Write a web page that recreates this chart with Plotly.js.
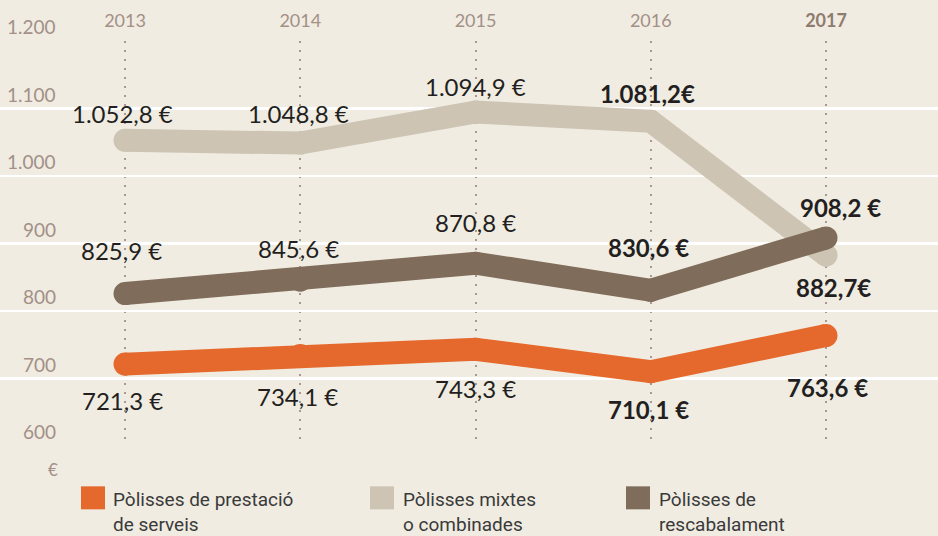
<!DOCTYPE html>
<html>
<head>
<meta charset="utf-8">
<script src="https://cdn.plot.ly/plotly-3.0.1.min.js"></script>
<style>html,body{margin:0;padding:0;background:#f0ece2;}</style>
</head>
<body>
<div id="chart" style="width:938px;height:536px;"></div>
<script>
// ---- data ----
const years = [2013, 2014, 2015, 2016, 2017];
const yearLabels = ['2013', '2014', '2015', '2016', '2017'];
const prestacio = [721.3, 734.1, 743.3, 710.1, 763.6];
const mixtes = [1052.8, 1048.8, 1094.9, 1081.2, 882.7];
const rescabalament = [825.9, 845.6, 870.8, 830.6, 908.2];
const prestacioText = ['721,3 €', '734,1 €', '743,3 €', '710,1 €', '763,6 €'];
const mixtesText = ['1.052,8 €', '1.048,8 €', '1.094,9 €', '1.081,2€', '882,7€'];
const rescabalamentText = ['825,9 €', '845,6 €', '870,8 €', '830,6 €', '908,2 €'];
const seriesNames = ['Pòlisses de prestació<br>de serveis', 'Pòlisses mixtes<br>o combinades', 'Pòlisses de<br>rescabalament'];
const yTicks = [600, 700, 800, 900, 1000, 1100, 1200];
const yTickText = ['600', '700', '800', '900', '1.000', '1.100', '1.200'];

// ---- styles / positions ----
const W = 938, H = 536;
const M = {l: 0, r: 0, t: 41, b: 90.3};
const plotH = H - M.t - M.b;
const colors = {prestacio: '#e5692c', mixtes: '#cdc4b4', rescabalament: '#806c5a'};
const axisTextColor = '#a39087';
const boldFrom = 3; // 2016 and 2017 labels bold
const shifts = {
  mixtes: {dx: [-3, -2, 0, -3, 7], dy: [27, 30, 25, 28, -32]},
  rescabalament: {dx: [-4, -2, 0, -2, 14], dy: [43, 32, 41, 43, 30]},
  prestacio: {dx: [-3, -3, 0, -2, 1], dy: [-36, -41, -39, -38, -52]}
};
const pxPerYear = 175.25;
const x0 = 2013 - 125 / pxPerYear;
const x1 = x0 + W / pxPerYear;
const paperY = py => (H - M.b - py) / plotH;
const paperX = px => px / W;

const lineW = 23;
function lineTrace(vals, color) {
  return {
    x: years, y: vals, type: 'scatter', mode: 'lines+markers',
    line: {color: color, width: lineW, shape: 'linear'},
    marker: {color: color, size: lineW, line: {width: 0}},
    hoverinfo: 'skip', showlegend: false
  };
}
const traces = [
  lineTrace(mixtes, colors.mixtes),
  lineTrace(rescabalament, colors.rescabalament),
  lineTrace(prestacio, colors.prestacio)
];

const annotations = [];
function addLabels(vals, texts, sh) {
  vals.forEach((v, i) => {
    annotations.push({
      x: years[i], y: v, xref: 'x', yref: 'y', showarrow: false,
      text: i >= boldFrom ? '<b>' + texts[i] + '</b>' : texts[i],
      xshift: sh.dx[i], yshift: sh.dy[i],
      xanchor: 'center', yanchor: 'middle',
      font: {family: 'Lato, "Open Sans", sans-serif', size: 24, color: '#231f20'}
    });
  });
}
addLabels(mixtes, mixtesText, shifts.mixtes);
addLabels(rescabalament, rescabalamentText, shifts.rescabalament);
addLabels(prestacio, prestacioText, shifts.prestacio);

// y tick labels (right-aligned, above gridlines)
yTicks.forEach((v, i) => {
  annotations.push({
    x: paperX(58), xref: 'paper', y: v, yref: 'y', showarrow: false,
    xanchor: 'right', yanchor: 'middle', yshift: 14.5,
    text: yTickText[i],
    font: {family: 'Lato, sans-serif', size: 19, color: axisTextColor}
  });
});
// unit
annotations.push({
  x: paperX(53), xref: 'paper', y: paperY(469), yref: 'paper', showarrow: false,
  xanchor: 'center', yanchor: 'middle', text: '€',
  font: {family: 'Lato, sans-serif', size: 17, color: axisTextColor}
});

// legend (squares + text)
const legendColors = [colors.prestacio, colors.mixtes, colors.rescabalament];
const legSquareX = [81, 370, 626];
const legTextX = [111, 401, 657];
const shapes = [];
seriesNames.forEach((name, i) => {
  shapes.push({
    type: 'rect', xref: 'paper', yref: 'paper',
    x0: paperX(legSquareX[i]), x1: paperX(legSquareX[i] + 24),
    y0: paperY(486), y1: paperY(509),
    fillcolor: legendColors[i], line: {width: 0}, layer: 'above'
  });
  annotations.push({
    x: paperX(legTextX[i]), xref: 'paper', y: paperY(512), yref: 'paper',
    showarrow: false, xanchor: 'left', yanchor: 'middle', align: 'left',
    text: name,
    font: {family: 'Roboto, sans-serif', size: 19, color: '#3a3a3a'}
  });
});

const layout = {
  width: W, height: H,
  margin: M,
  paper_bgcolor: '#f0ece2', plot_bgcolor: '#f0ece2',
  showlegend: false,
  xaxis: {
    range: [x0, x1], side: 'top', fixedrange: true,
    tickmode: 'array', tickvals: years,
    ticktext: yearLabels.map((t, i) => i === years.length - 1 ? '<span style="color:#8f7b70"><b>' + t + '</b></span>' : t),
    tickfont: {family: 'Lato, sans-serif', size: 18, color: axisTextColor},
    ticklabelstandoff: 9,
    showgrid: true, gridcolor: '#a89891', gridwidth: 2, griddash: '2px,7px',
    zeroline: false, showline: false, ticks: ''
  },
  yaxis: {
    range: [600, 1200], fixedrange: true,
    tickmode: 'array', tickvals: yTicks, showticklabels: false,
    showgrid: true, gridcolor: '#ffffff', gridwidth: 2.5,
    zeroline: false, showline: false, ticks: ''
  },
  annotations: annotations,
  shapes: shapes
};

Plotly.newPlot('chart', traces, layout, {displayModeBar: false, staticPlot: true});
</script>
</body>
</html>
